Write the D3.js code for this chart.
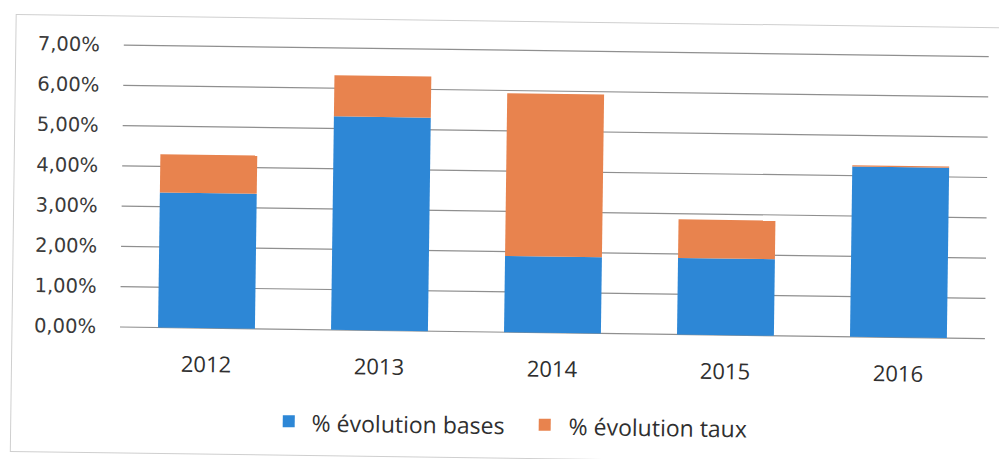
<!DOCTYPE html>
<html>
<head>
<meta charset="utf-8">
<script src="https://cdn.jsdelivr.net/npm/d3@7/dist/d3.min.js"></script>
<style>
  html, body { margin: 0; padding: 0; background: #fff; }
  svg { display: block; }
</style>
</head>
<body>
<svg id="chart" width="999" height="459"></svg>
<script>
// Years on the x axis
const years = ["2012", "2013", "2014", "2015", "2016"];
// Stacked series (percent)
const bases = [3.35, 5.30, 1.89, 1.90, 4.23];
const taux  = [0.95, 1.02, 4.04, 0.96, 0.03];
// Y axis ticks
const yTicks = [0, 1, 2, 3, 4, 5, 6, 7];
const seriesNames = ["% évolution bases", "% évolution taux"];
const colors = ["#2d87d6", "#e8834e"];

const W = 999, H = 459;
const plot = { left: 120, right: 985, zero: 327, top: 45 };
const tilt = 0.77; // page sits slightly skewed

const svg = d3.select("#chart");
const g = svg.append("g")
  .attr("transform", `rotate(${tilt}, ${plot.left}, ${plot.zero})`);

const x = d3.scaleBand()
  .domain(years)
  .range([plot.left, plot.right])
  .paddingInner(0.44)
  .paddingOuter(0.22);

const y = d3.scaleLinear()
  .domain([0, 7])
  .range([plot.zero, plot.top]);

// outer frame of the chart area
g.append("rect")
  .attr("x", 12).attr("y", 16)
  .attr("width", 1010).attr("height", 437)
  .attr("fill", "none")
  .attr("stroke", "#cfcfcf")
  .attr("stroke-width", 1);

// horizontal gridlines
g.append("g").selectAll("line")
  .data(yTicks)
  .join("line")
  .attr("x1", plot.left).attr("x2", plot.right)
  .attr("y1", d => y(d)).attr("y2", d => y(d))
  .attr("stroke", "#8f8f8f")
  .attr("stroke-width", 1.2);

// y axis labels
const fmt = d => d.toFixed(2).replace(".", ",") + "%";
g.append("g").selectAll("text")
  .data(yTicks)
  .join("text")
  .attr("x", 96)
  .attr("y", d => y(d))
  .attr("dy", "0.33em")
  .attr("text-anchor", "end")
  .attr("font-family", "'DejaVu Sans', sans-serif")
  .attr("font-size", 19.5)
  .attr("fill", "#3a3a3a")
  .text(fmt);

// stacked bars
const rows = years.map((yr, i) => ({ year: yr, bases: bases[i], taux: taux[i] }));
const stack = d3.stack().keys(["bases", "taux"])(rows);

g.append("g").selectAll("g")
  .data(stack)
  .join("g")
  .attr("fill", (d, i) => colors[i])
  .selectAll("rect")
  .data(d => d)
  .join("rect")
  .attr("x", d => x(d.data.year))
  .attr("width", x.bandwidth())
  .attr("y", d => y(d[1]))
  .attr("height", d => y(d[0]) - y(d[1]));

// x axis labels
g.append("g").selectAll("text")
  .data(years)
  .join("text")
  .attr("x", d => x(d) + x.bandwidth() / 2)
  .attr("y", 371)
  .attr("text-anchor", "middle")
  .attr("font-family", "'Open Sans', sans-serif")
  .attr("font-size", 22)
  .attr("fill", "#2f2f2f")
  .text(d => d);

// legend
const legendPos = [{ sx: 284, tx: 313 }, { sx: 540, tx: 570 }];
const lg = g.append("g").selectAll("g")
  .data(seriesNames)
  .join("g");
lg.append("rect")
  .attr("x", (d, i) => legendPos[i].sx)
  .attr("y", 413)
  .attr("width", 12).attr("height", 12)
  .attr("fill", (d, i) => colors[i]);
lg.append("text")
  .attr("x", (d, i) => legendPos[i].tx)
  .attr("y", 429)
  .attr("font-family", "'Open Sans', sans-serif")
  .attr("font-size", 23)
  .attr("fill", "#2f2f2f")
  .text(d => d);
</script>
</body>
</html>
